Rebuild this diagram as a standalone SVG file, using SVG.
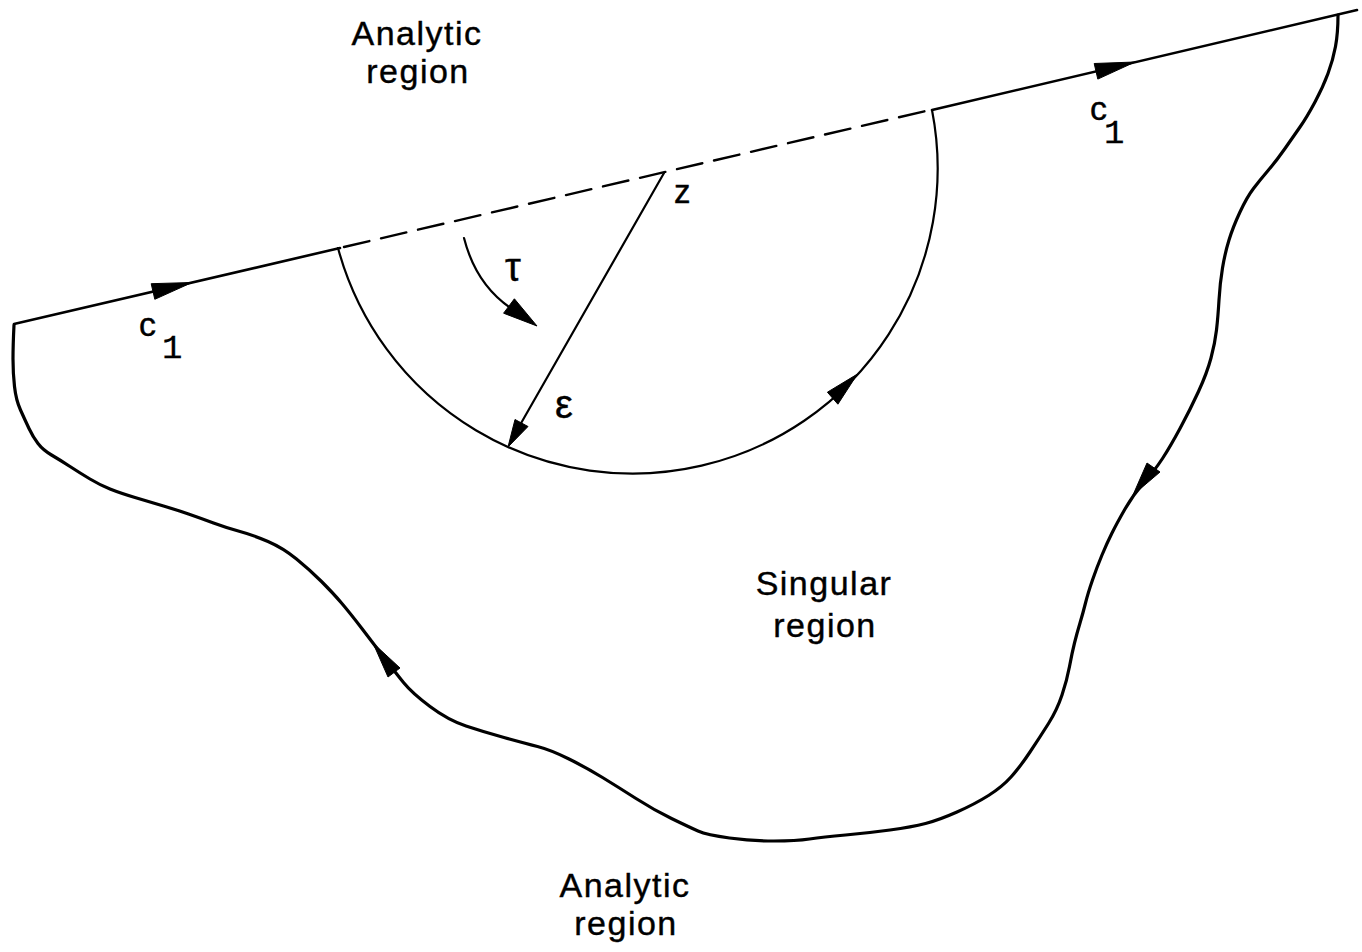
<svg xmlns="http://www.w3.org/2000/svg" width="1362" height="952" viewBox="0 0 1362 952">
<style>
.ln{fill:none;stroke:#000;stroke-linecap:round;stroke-linejoin:round}
.ah{fill:#000;stroke:#000;stroke-width:1;stroke-linejoin:round}
.lbl{font-family:"Liberation Sans",Arial,sans-serif;font-size:34px;letter-spacing:1.5px;fill:#000;stroke:#000;stroke-width:0.4px;text-anchor:middle}
.sym{font-family:"Liberation Sans",Arial,sans-serif;font-size:32px;fill:#000;stroke:#000;stroke-width:0.4px}
.sub{font-family:"Liberation Mono","Courier New",monospace;font-size:34px;fill:#000;stroke:#000;stroke-width:0.3px}
</style>
<rect width="1362" height="952" fill="#fff"/>
<g id="connectors">
<path id="line-left" class="ln" stroke-width="2.6" d="M14,324 L340,248"/>
<path id="line-dashed" class="ln" stroke-width="2.4" stroke-dasharray="26 12" stroke-linecap="butt" d="M344,247 L930,110"/>
<path id="line-right" class="ln" stroke-width="2.6" d="M932,110 L1357,10"/>
<path id="semicircle" class="ln" stroke-width="2.2" d="M338,248 A305.1,305.1 0 0,0 932,110"/>
<path id="boundary" class="ln" stroke-width="3.2" d="M1338,15 Q1338,33 1335.5,46.5 Q1333,60 1328,73.5 Q1323,87 1315,102 Q1307,117 1300,127 Q1293,137 1285,148.5 Q1277,160 1268.5,170 Q1260,180 1253.5,188.5 Q1247,197 1240,212 Q1233,227 1229,240 Q1225,253 1222.5,268 Q1220,283 1219,300 Q1218,317 1216.5,330 Q1215,343 1211,358 Q1207,373 1198.5,391.5 Q1190,410 1180,428.5 Q1170,447 1162.5,458.5 Q1155,470 1144,482.5 Q1133,495 1125,509 Q1117,523 1112,533 Q1107,543 1102,555 Q1097,567 1092.5,580 Q1088,593 1085.5,603 Q1083,613 1080,623 Q1077,633 1074.5,643 Q1072,653 1069.5,666.5 Q1067,680 1062,695 Q1057,710 1048.5,723.5 Q1040,737 1030,752 Q1020,767 1011,777 Q1002,787 988.5,795.5 Q975,804 957,812 Q939,820 925.5,823.5 Q912,827 890,830 Q868,833 845.5,835 Q823,837 809.5,839 Q796,841 774,841 Q752,841 729.5,838 Q707,835 698,831 Q689,827 671.5,818.5 Q654,810 636,798.5 Q618,787 602.5,777.5 Q587,768 569,759 Q551,750 537.5,746.5 Q524,743 504,737.5 Q484,732 466,726 Q448,720 430,706.5 Q412,693 403.5,682.5 Q395,672 384,657.5 Q373,643 361.5,628 Q350,613 341.5,603 Q333,593 321.5,581.5 Q310,570 296.5,559 Q283,548 268,541.5 Q253,535 240,531.5 Q227,528 213.5,523 Q200,518 188.5,514 Q177,510 163.5,506 Q150,502 135,497.5 Q120,493 110,489 Q100,485 90,479 Q80,473 70,466.5 Q60,460 51.5,455 Q43,450 38,443.5 Q33,437 29,428.5 Q25,420 20.5,410 Q16,400 14.5,386.5 Q13,373 13,359 Q13,345 14,325"/>
<path id="radius" class="ln" stroke-width="2.2" d="M664,173 L520,425"/>
<path id="tau-arrow" class="ln" stroke-width="2.2" d="M464,238 Q476,285 512,309"/>
<polygon class="ah" points="192,282.5 154.8,299.3 151.2,283.7"/>
<polygon class="ah" points="1135,62 1097.8,79.1 1094.2,63.5"/>
<polygon class="ah" points="508,447 528,426.5 515,419.5"/>
<polygon class="ah" points="537,326 503.6,313.2 514.4,298.8"/>
<polygon class="ah" points="857.4,374.1 837.9,404.2 827.4,392.2"/>
<polygon class="ah" points="1133,495 1147,463 1160,472"/>
<polygon class="ah" points="373,643 388,677 400,668"/>
</g>
<g id="label-analytic-top">
<text class="lbl" x="417" y="45">Analytic</text>
<text class="lbl" x="418" y="83">region</text>
</g>
<g id="label-analytic-bottom">
<text class="lbl" x="625" y="897">Analytic</text>
<text class="lbl" x="626" y="935">region</text>
</g>
<g id="label-singular">
<text class="lbl" x="824" y="595">Singular</text>
<text class="lbl" x="825" y="637">region</text>
</g>
<g id="label-c1-left">
<text class="sym" x="139" y="336" style="font-size:34px">c</text>
<text class="sub" x="162" y="358">1</text>
</g>
<g id="label-c1-right">
<text class="sym" x="1090" y="120" style="font-size:34px">c</text>
<text class="sub" x="1104" y="143">1</text>
</g>
<g id="label-z"><text class="sym" x="674" y="203" style="font-size:33px">z</text></g>
<g id="label-tau"><text class="sym" x="505" y="281" style="font-size:40px">τ</text></g>
<g id="label-eps"><text class="sym" x="555" y="418" style="font-size:40px">ε</text></g>
</svg>
